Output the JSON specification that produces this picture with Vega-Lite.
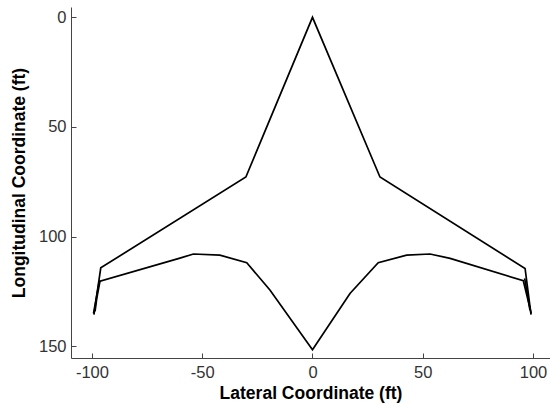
{
  "$schema": "https://vega.github.io/schema/vega-lite/v6.json",
  "width": 479,
  "height": 351,
  "autosize": {"type": "none"},
  "padding": {"left": 71, "top": 7, "right": 0, "bottom": 46},
  "background": "white",
  "config": {
    "view": {"stroke": null},
    "axis": {
      "grid": false,
      "domainColor": "#444444",
      "tickColor": "#444444",
      "labelColor": "#333333",
      "labelFont": "Liberation Sans",
      "labelFontSize": 16.5,
      "titleFont": "Liberation Sans",
      "titleFontSize": 17.5,
      "titleFontWeight": "bold",
      "titleColor": "#000000",
      "domainWidth": 1,
      "tickWidth": 1
    }
  },
  "data": {
    "values": [
      {"path": "outer", "o": 1, "x": -99.1, "y": 135.5},
      {"path": "outer", "o": 2, "x": -96.0, "y": 114.2},
      {"path": "outer", "o": 3, "x": -30.2, "y": 72.8},
      {"path": "outer", "o": 4, "x": 0, "y": 0},
      {"path": "outer", "o": 5, "x": 30.6, "y": 72.8},
      {"path": "outer", "o": 6, "x": 96.4, "y": 114.5},
      {"path": "outer", "o": 7, "x": 99.1, "y": 135.5},
      {"path": "inner", "o": 1, "x": -99.3, "y": 135.0},
      {"path": "inner", "o": 2, "x": -96.7, "y": 120.4},
      {"path": "inner", "o": 3, "x": -60.1, "y": 109.8},
      {"path": "inner", "o": 4, "x": -54.0, "y": 107.9},
      {"path": "inner", "o": 5, "x": -42.0, "y": 108.4},
      {"path": "inner", "o": 6, "x": -29.8, "y": 111.9},
      {"path": "inner", "o": 7, "x": -19.3, "y": 124.3},
      {"path": "inner", "o": 8, "x": 0, "y": 151.5},
      {"path": "inner", "o": 9, "x": 17.0, "y": 125.9},
      {"path": "inner", "o": 10, "x": 29.8, "y": 111.9},
      {"path": "inner", "o": 11, "x": 42.7, "y": 108.4},
      {"path": "inner", "o": 12, "x": 53.3, "y": 107.9},
      {"path": "inner", "o": 13, "x": 62.4, "y": 109.9},
      {"path": "inner", "o": 14, "x": 95.6, "y": 120.1},
      {"path": "inner", "o": 15, "x": 99.2, "y": 135.0},
      {"path": "endL", "o": 1, "x": -98.6, "y": 134.0},
      {"path": "endL", "o": 2, "x": -97.8, "y": 128.0},
      {"path": "endL", "o": 3, "x": -96.3, "y": 120.0},
      {"path": "endR", "o": 1, "x": 98.6, "y": 133.5},
      {"path": "endR", "o": 2, "x": 97.6, "y": 127.0},
      {"path": "endR", "o": 3, "x": 96.2, "y": 119.0}
    ]
  },
  "resolve": {"axis": {"x": "independent", "y": "independent"}},
  "layer": [
    {
      "mark": {"type": "line", "color": "#000000", "strokeWidth": 1.7, "strokeJoin": "miter"},
      "encoding": {
        "x": {
          "field": "x", "type": "quantitative",
          "scale": {"domain": [-109.5, 107.7], "nice": false, "zero": false},
          "axis": {"orient": "bottom", "values": [-100, -50, 0, 50, 100], "ticks": false, "labelExpr": "'' + datum.value", "title": "Lateral Coordinate (ft)", "labelPadding": 6, "titlePadding": 4}
        },
        "y": {
          "field": "y", "type": "quantitative",
          "scale": {"domain": [-4.7, 155.3], "nice": false, "zero": false, "reverse": true},
          "axis": {"orient": "left", "values": [0, 50, 100, 150], "ticks": false, "labelExpr": "'' + datum.value", "title": "Longitudinal Coordinate (ft)", "labelPadding": 5, "titlePadding": 10}
        },
        "detail": {"field": "path"},
        "order": {"field": "o"}
      }
    },
    {
      "mark": {"type": "point", "opacity": 0},
      "encoding": {
        "x": {
          "field": "x", "type": "quantitative",
          "axis": {"orient": "top", "offset": -351, "values": [-100, -50, 0, 50, 100], "domain": false, "labels": false, "title": null, "tickSize": 5}
        },
        "y": {
          "field": "y", "type": "quantitative",
          "axis": {"orient": "right", "offset": -479, "values": [0, 50, 100, 150], "domain": false, "labels": false, "title": null, "tickSize": 5}
        }
      }
    }
  ]
}
